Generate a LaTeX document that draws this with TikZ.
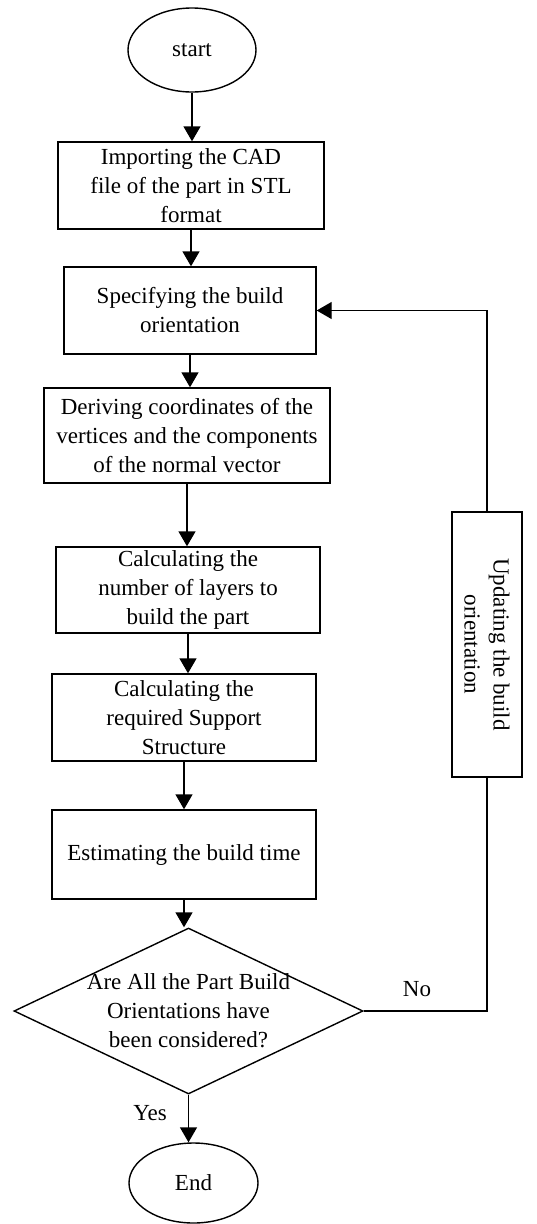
\documentclass[tikz,border=0pt]{standalone}
\usepackage{fontspec}
\setmainfont{Liberation Serif}
\usetikzlibrary{shapes.geometric,arrows.meta}

\begin{document}
\begin{tikzpicture}[x=1pt,y=-1pt,
    every node/.style={font=\fontsize{23}{29}\selectfont, align=center, inner sep=0pt},
    stepbox/.style={draw, rectangle, line width=1.4pt, minimum height=87pt},
    term/.style={draw, ellipse, line width=1.4pt, minimum width=128pt, minimum height=84pt},
    flow/.style={line width=1.4pt, -{Triangle[width=17pt,length=15pt]}}]
    \useasboundingbox (0,0) rectangle (537,1224);

    \node[term] (start) at (192,50) {start};
    \node[stepbox, minimum width=266pt] (import) at (191,185.5) {Importing the CAD\\file of the part in STL\\format};
    \node[stepbox, minimum width=252pt] (orient) at (190,310.5) {Specifying the build\\orientation};
    \node[stepbox, minimum width=286pt, minimum height=95pt] (derive) at (187,435.5) {Deriving coordinates of the\\vertices and the components\\of the normal vector};
    \node[stepbox, minimum width=264pt, minimum height=86pt] (layers) at (188,590) {Calculating the\\number of layers to\\build the part};
    \node[stepbox, minimum width=264pt] (support) at (184,717.5) {Calculating the\\required Support\\Structure};
    \node[stepbox, minimum width=264pt, minimum height=89pt] (time) at (184,854.5) {Estimating the build time};
    \node[draw, diamond, line width=1.4pt, minimum width=349pt, minimum height=166pt,
          label={[align=center]center:Are All the Part Build\\Orientations have\\been considered?}] (check) at (188.5,1011) {};
    \node[term, minimum width=129pt, minimum height=80pt] (end) at (193.5,1183) {End};
    \node[stepbox, rotate=-90, minimum width=265pt, minimum height=70pt] (update) at (487,644.5) {Updating the build\\orientation};

    \foreach \a/\b in {start/import, import/orient, orient/derive, derive/layers,
                       layers/support, support/time, time/check, check/end} {
    \draw[flow] (\a) -- (\a |- \b.north);
    }

    % loop back
    \draw[line width=1.4pt] (check.east) -| (update);
    \draw[flow] (update) |- (orient);

    \node (yes) at (150,1113) {Yes};
    \node (no) at (417,989) {No};
\end{tikzpicture}
\end{document}
